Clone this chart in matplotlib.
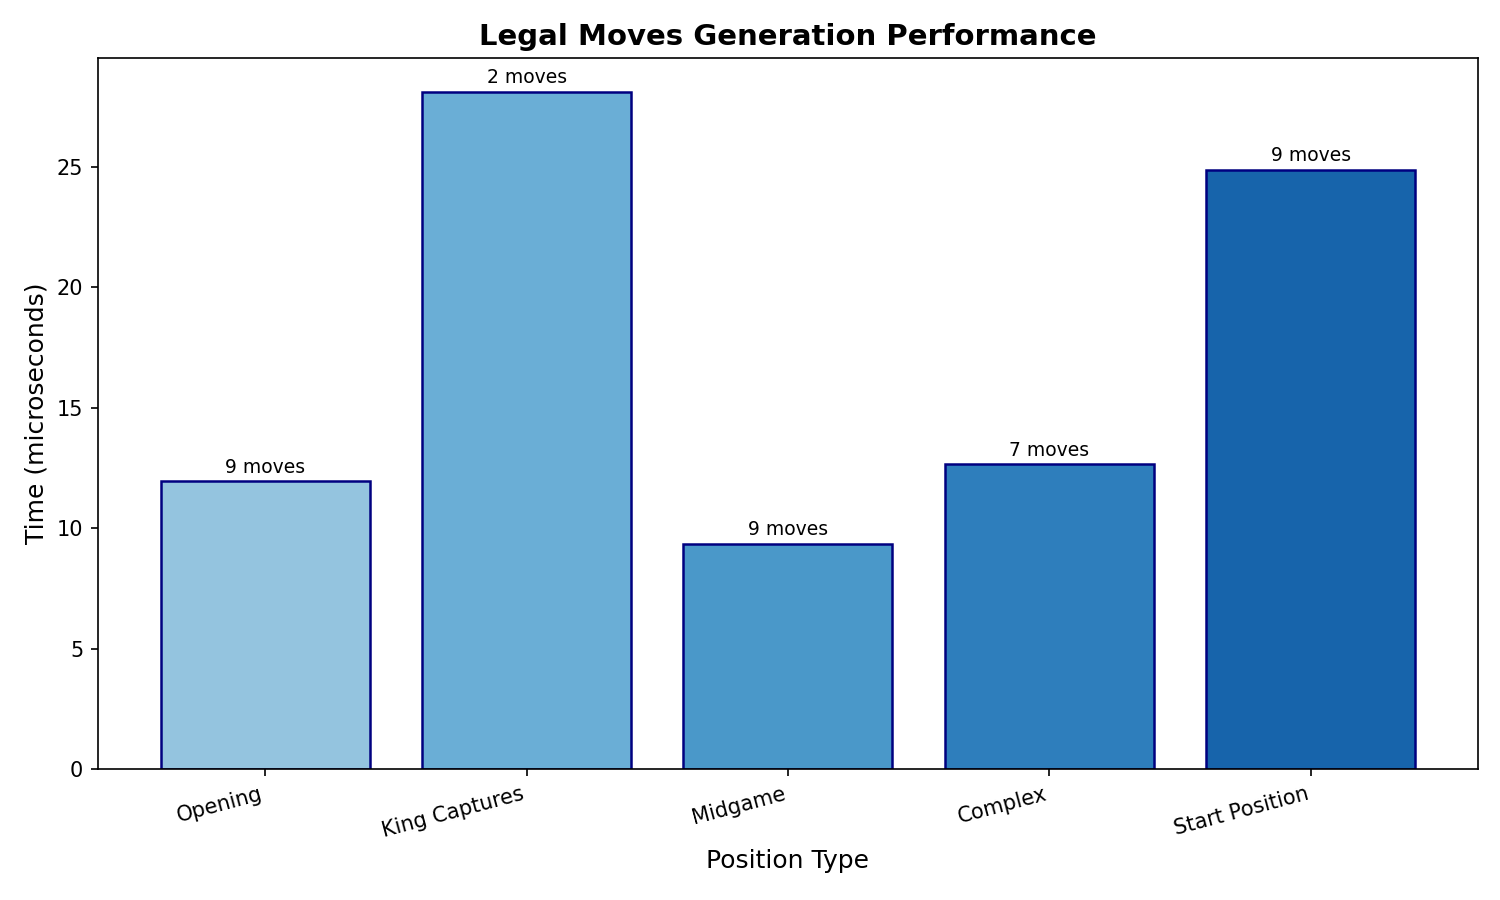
import numpy as np
import matplotlib
matplotlib.use("Agg")
import matplotlib.pyplot as plt

# data
positions = ["Opening", "King Captures", "Midgame", "Complex", "Start Position"]
times_us = [11.94, 28.11, 9.33, 12.64, 24.88]
move_counts = [9, 2, 9, 7, 9]

colors = plt.cm.Blues(np.linspace(0.4, 0.8, len(positions)))

fig, ax = plt.subplots(figsize=(10, 6), dpi=150)
bars = ax.bar(positions, times_us, color=colors, edgecolor="navy", linewidth=1.2)

for bar, n in zip(bars, move_counts):
    ax.text(bar.get_x() + bar.get_width() / 2, bar.get_height() + 0.2,
            f"{n} moves", ha="center", va="bottom", fontsize=9)

ax.set_title("Legal Moves Generation Performance", fontsize=14, fontweight="bold")
ax.set_xlabel("Position Type", fontsize=12)
ax.set_ylabel("Time (microseconds)", fontsize=12)
plt.setp(ax.get_xticklabels(), rotation=15, ha="right")

fig.subplots_adjust(left=0.0653, right=0.9853, bottom=0.1456, top=0.9356)
plt.savefig("out.png", dpi=150)
